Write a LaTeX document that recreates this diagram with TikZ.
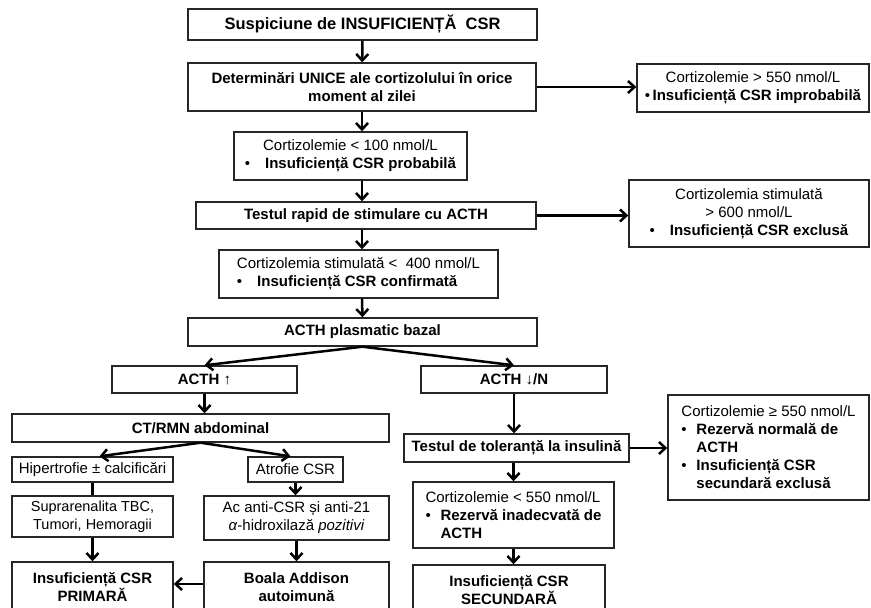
\documentclass[tikz,border=0pt]{standalone}
\usepackage{fontspec}
\setmainfont{Liberation Sans}
\usetikzlibrary{arrows.meta}
\newcommand{\itm}{\makebox[15pt][l]{\textbullet}}
\newcommand{\ind}{\hspace*{15pt}}

\begin{document}
\begin{tikzpicture}[x=1pt,y=-1pt,
    box/.style={draw=black!85, line width=1.4pt, inner sep=2pt, align=center,
        font=\fontsize{15}{18}\selectfont},
    bbox/.style={box, font=\fontsize{15}{18}\selectfont\bfseries},
    arr/.style={line width=2.5pt, -{Straight Barb[length=6.5pt,width=12pt]}}]
    \useasboundingbox (0,0) rectangle (871,608);
    \clip (0,0) rectangle (871,608);

    % coloana centrala
    \node[bbox, minimum width=349, minimum height=31, font=\fontsize{16.5}{20}\selectfont\bfseries] (susp) at (362.5,24.5) {Suspiciune de INSUFICIENȚĂ \ CSR};
    \node[bbox, minimum width=348, minimum height=48] (det) at (362,87) {Determinări UNICE ale cortizolului în orice\\moment al zilei};
    \node[box, minimum width=233, minimum height=48] (prob) at (350.5,156) {Cortizolemie < 100 nmol/L\\\textbullet\quad\textbf{Insuficiență CSR probabilă}};
    \node[bbox, minimum width=340, minimum height=27] (rapid) at (366,215.5) {Testul rapid de stimulare cu ACTH};
    \node[box, align=left, minimum width=279, minimum height=48] (confirm) at (358.5,274) {Cortizolemia stimulată <\ \ 400 nmol/L\\\textbullet\quad\textbf{Insuficiență CSR confirmată}};
    \node[bbox, minimum width=349, minimum height=28] (bazal) at (362.5,332) {ACTH plasmatic bazal};

    % coloana dreapta sus
    \node[box, minimum width=232, minimum height=48] (improb) at (753,88) {Cortizolemie > 550 nmol/L\\\textbullet\,\textbf{Insuficiență CSR improbabilă}};
    \node[box, minimum width=240, minimum height=67] (exclusa) at (749,213.5) {Cortizolemia stimulată\\> 600 nmol/L\\\textbullet\quad\textbf{Insuficiență CSR exclusă}};

    % ramura ACTH crescut
    \node[bbox, minimum width=185, minimum height=27] (acthup) at (204.5,379.5) {ACTH ↑};
    \node[bbox, minimum width=377, minimum height=28] (ct) at (200.5,428) {CT/RMN abdominal};
    \node[box, minimum width=161, minimum height=25] (hiper) at (92.5,469.5) {Hipertrofie ± calcificări};
    \node[box, minimum width=95, minimum height=25] (atrof) at (295.5,469.5) {Atrofie CSR};
    \node[box, minimum width=161, minimum height=41, font=\fontsize{14.5}{18}\selectfont] (supra) at (92.5,516.5) {Suprarenalita TBC,\\Tumori, Hemoragii};
    \node[box, minimum width=185, minimum height=44] (acanti) at (296.5,518) {Ac anti-CSR și anti-21\\\textit{α}-hidroxilază \textit{pozitivi}};
    \node[bbox, minimum width=161, minimum height=50] (primara) at (92.5,587) {Insuficiență CSR\\PRIMARĂ};
    \node[bbox, minimum width=185, minimum height=50] (boala) at (296.5,587) {Boala Addison\\autoimună};

    % ramura ACTH scazut / normal
    \node[bbox, minimum width=186, minimum height=27] (acthdn) at (514,379.5) {ACTH ↓/N};
    \node[bbox, minimum width=225, minimum height=28] (itt) at (516.5,448) {Testul de toleranță la insulină};
    \node[box, align=left, minimum width=201, minimum height=105] (normala) at (768.5,447.5) {Cortizolemie ≥ 550 nmol/L\\\itm\textbf{Rezervă normală de}\\\ind\textbf{ACTH}\\\itm\textbf{Insuficiență CSR}\\\ind\textbf{secundară exclusă}};
    \node[box, align=left, minimum width=201, minimum height=66] (inadecv) at (513.5,515) {Cortizolemie < 550 nmol/L\\\itm\textbf{Rezervă inadecvată de}\\\ind\textbf{ACTH}};
    \node[bbox, minimum width=192, minimum height=50] (secund) at (509,590) {Insuficiență CSR\\SECUNDARĂ};

    % sageti
    \draw[arr] (susp) -- (det);
    \draw[arr] (det.east) -- (det.east -| improb.west);
    \draw[arr] (det.south) -- (det.south |- prob.north);
    \draw[arr] (det.south |- prob.south) -- (det.south |- rapid.north);
    \draw[arr] (rapid.east) -- (rapid.east -| exclusa.west);
    \draw[arr] (det.south |- rapid.south) -- (det.south |- confirm.north);
    \draw[arr] (det.south |- confirm.south) -- (bazal.north);
    \draw[arr] (bazal.south) -- (acthup.north);
    \draw[arr] (bazal.south) -- (acthdn.north);
    \draw[arr] (acthup.south) -- (acthup.south |- ct.north);
    \draw[arr] (ct.south) -- ([xshift=7pt]hiper.north);
    \draw[arr] (ct.south) -- ([xshift=-5pt]atrof.north);
    \draw[line width=2.5pt] (hiper.south) -- (supra.north);
    \draw[arr] (atrof.south) -- (atrof.south |- acanti.north);
    \draw[arr] (supra.south) -- (primara.north);
    \draw[arr] (acanti.south) -- (boala.north);
    \draw[arr] ([yshift=3pt]boala.west) -- ([yshift=3pt]primara.east);
    \draw[arr] (acthdn.south) -- (acthdn.south |- itt.north);
    \draw[arr] (itt.east) -- (itt.east -| normala.west);
    \draw[arr] (inadecv.north |- itt.south) -- (inadecv.north);
    \draw[arr] (inadecv.south) -- (inadecv.south |- secund.north);

\end{tikzpicture}
\end{document}
